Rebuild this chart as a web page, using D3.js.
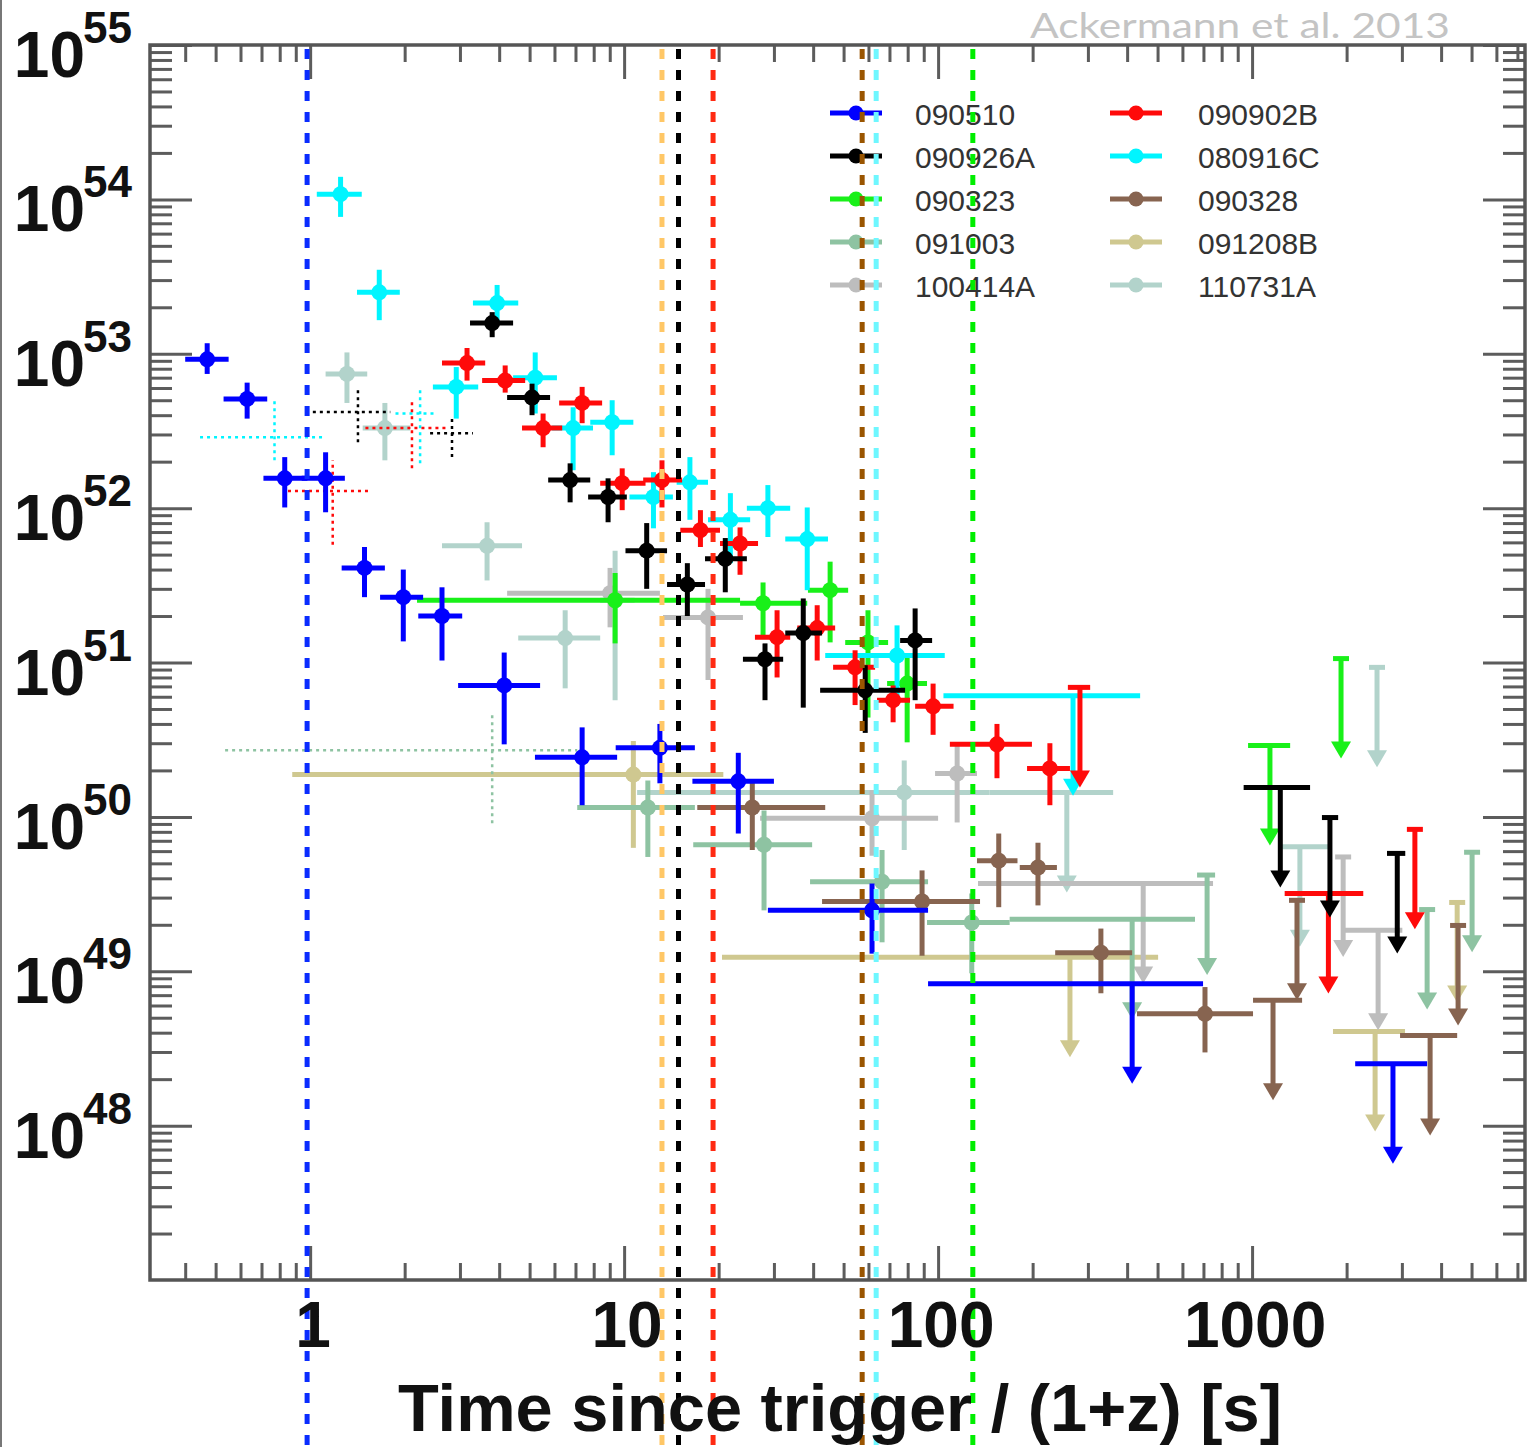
<!DOCTYPE html>
<html lang="en">
<head>
  <meta charset="utf-8">
  <title>GRB luminosity vs rest-frame time</title>
  <script type="text/javascript" src="https://cdn.jsdelivr.net/npm/d3@7"></script>
  <style>
    body { margin: 0; background: #fff; }
    svg { display: block; }
  </style>
</head>
<body>
  <script type="text/javascript">

  // rows: [t, tLow, tHigh, L, Llow, Lhigh]   (t in s, L in erg/s)
  // upper limits: [t, tLow, tHigh, Lmax]
  var grb090510 = [
    [0.47, 0.40, 0.55, 9.2e52, 7.4e52, 1.17e53],
    [0.63, 0.53, 0.73, 5.1e52, 3.8e52, 6.5e52],
    [0.83, 0.71, 0.98, 1.56e52, 1.01e52, 2.14e52],
    [1.12, 0.94, 1.29, 1.56e52, 9.4e51, 2.3e52],
    [1.49, 1.26, 1.73, 4.1e51, 2.65e51, 5.6e51],
    [1.98, 1.67, 2.29, 2.65e51, 1.37e51, 4.0e51],
    [2.63, 2.21, 3.05, 2.0e51, 1.03e51, 3.07e51],
    [4.15, 2.96, 5.4, 7.1e50, 2.95e50, 1.16e51],
    [7.35, 5.2, 9.5, 2.43e50, 1.19e50, 3.8e50],
    [13.0, 9.4, 16.8, 2.8e50, 1.65e50, 4.0e50],
    [23.1, 16.5, 30.0, 1.7e50, 7.8e49, 2.6e50],
    [61.6, 28.7, 92.9, 2.48e49, 1.30e49, 3.7e49]
  ];
  var ul090510 = [[415, 92.9, 698, 8.3e48], [2810, 2130, 3610, 2.52e48]];

  var grb090926A = [
    [3.80, 3.23, 4.43, 1.58e53, 1.28e53, 1.86e53],
    [5.09, 4.24, 5.81, 5.2e52, 4.0e52, 6.4e52],
    [6.73, 5.73, 7.80, 1.52e52, 1.09e52, 1.95e52],
    [8.89, 7.68, 10.2, 1.18e52, 8.1e51, 1.56e52],
    [11.8, 10.1, 13.7, 5.3e51, 3.0e51, 8.0e51],
    [15.9, 13.7, 18.1, 3.2e51, 2.0e51, 4.4e51],
    [21.0, 18.1, 24.6, 4.7e51, 2.85e51, 6.4e51],
    [28.1, 23.9, 32.1, 1.05e51, 5.7e50, 1.33e51],
    [37.2, 32.6, 42.7, 1.55e51, 5.1e50, 2.6e51],
    [58.6, 42.1, 78.5, 6.6e50, 3.5e50, 9.6e50],
    [84.5, 75.7, 95.7, 1.39e51, 5.7e50, 2.24e51]
  ];
  var ul090926A = [[1230, 940, 1530, 1.55e50], [1770, 1670, 1880, 9.9e49], [2900, 2690, 3070, 5.8e49]];
  var dot090926A = [[1.42, 1.02, 1.80, 4.2e52, 2.67e52, 6.0e52], [2.83, 2.41, 3.30, 3.05e52, 2.14e52, 3.9e52]];

  var grb090902B = [
    [3.16, 2.63, 3.61, 8.7e52, 6.7e52, 1.09e53],
    [4.18, 3.53, 4.84, 6.7e52, 5.6e52, 8.4e52],
    [7.35, 6.21, 8.51, 4.8e52, 3.55e52, 6.1e52],
    [5.52, 4.73, 6.35, 3.3e52, 2.48e52, 4.1e52],
    [9.86, 8.39, 11.7, 1.45e52, 9.7e51, 1.81e52],
    [13.2, 11.5, 15.3, 1.52e52, 1.01e52, 2.04e52],
    [17.5, 15.1, 20.2, 7.2e51, 5.6e51, 9.7e51],
    [23.4, 20.2, 26.7, 5.9e51, 3.7e51, 7.5e51],
    [30.7, 26.1, 33.8, 1.46e51, 8.0e50, 2.18e51],
    [41.2, 35.6, 47.0, 1.67e51, 1.03e51, 2.35e51],
    [54.4, 46.3, 63.0, 9.3e50, 5.3e50, 1.2e51],
    [71.9, 63.9, 81.4, 5.7e50, 4.1e50, 7.1e50],
    [96.4, 84.5, 112, 5.2e50, 3.4e50, 7.3e50],
    [154, 109, 199, 2.95e50, 1.78e50, 4.0e50],
    [227, 192, 263, 2.06e50, 1.19e50, 3.0e50]
  ];
  var ul090902B = [[283, 259, 305, 6.9e50], [1750, 1270, 2260, 3.19e49], [3300, 3220, 3390, 8.3e49]];
  var dot090902B = [[1.18, 0.85, 1.55, 1.29e52, 5.8e51, 2.04e52], [2.11, 1.50, 2.75, 3.3e52, 1.81e52, 5.0e52]];

  var grb080916C = [
    [1.25, 1.05, 1.46, 1.08e54, 7.7e53, 1.40e54],
    [1.66, 1.41, 1.93, 2.5e53, 1.65e53, 3.5e53],
    [3.94, 3.30, 4.60, 2.13e53, 1.58e53, 2.79e53],
    [2.92, 2.46, 3.43, 6.1e52, 3.8e52, 8.2e52],
    [5.21, 4.43, 6.11, 7.0e52, 4.1e52, 1.02e53],
    [6.88, 5.90, 7.96, 3.3e52, 1.76e52, 4.5e52],
    [9.16, 7.80, 10.7, 3.6e52, 2.2e52, 5.0e52],
    [12.4, 10.4, 14.3, 1.18e52, 7.4e51, 1.71e52],
    [16.2, 14.7, 18.5, 1.47e52, 8.4e51, 2.14e52],
    [21.8, 18.5, 25.2, 8.4e51, 4.4e51, 1.25e52],
    [28.7, 24.6, 33.8, 1.0e52, 6.5e51, 1.41e52],
    [38.3, 32.6, 44.6, 6.3e51, 2.94e51, 1.01e52],
    [74.0, 43.7, 105, 1.11e51, 5.4e50, 1.74e51]
  ];
  var ul080916C = [[269, 104, 440, 6.1e50]];
  var dot080916C = [[0.77, 0.446, 1.10, 2.88e52, 2.04e52, 5.0e52], [2.24, 1.87, 2.54, 4.1e52, 1.95e52, 6.0e52]];

  var grb090323 = [
    [9.36, 2.19, 23.4, 2.53e51, 1.33e51, 3.8e51],
    [27.7, 23.4, 38.3, 2.42e51, 1.46e51, 3.3e51],
    [45.3, 38.5, 51.7, 2.94e51, 1.35e51, 4.5e51],
    [59.8, 50.6, 69.3, 1.35e51, 4.4e50, 2.18e51],
    [79.7, 68.8, 92.2, 7.3e50, 3.04e50, 1.11e51]
  ];
  var ul090323 = [[1140, 971, 1322, 2.9e50], [1920, 1900, 1940, 1.06e51]];

  var grb090328 = [
    [25.6, 17.1, 43.7, 1.15e50, 6.1e49, 1.68e50],
    [88.9, 42.7, 136, 2.83e49, 1.26e49, 4.5e49],
    [156, 133, 179, 5.2e49, 2.6e49, 7.8e49],
    [208, 182, 239, 4.7e49, 2.67e49, 6.8e49],
    [330, 236, 415, 1.32e49, 7.2e48, 1.89e49],
    [708, 430, 1007, 5.3e48, 2.98e48, 7.9e48]
  ];
  var ul090328 = [[1166, 1007, 1443, 6.5e48], [1390, 1370, 1410, 2.88e49], [3690, 2960, 4500, 3.84e48], [4530, 4450, 4610, 1.98e49]];

  var grb091003 = [
    [11.9, 7.09, 16.8, 1.15e50, 5.5e49, 1.72e50],
    [27.9, 16.6, 39.7, 6.6e49, 2.48e49, 1.10e50],
    [66.3, 39.1, 92.9, 3.8e49, 1.54e49, 6.1e49],
    [128, 92.2, 169, 2.07e49, 9.7e48, 3.19e49]
  ];
  var ul091003 = [[415, 169, 658, 2.17e49], [719, 668, 762, 4.2e49], [3610, 3550, 3670, 2.51e49], [5020, 4940, 5100, 5.9e49]];
  var dot091003 = [[3.80, 0.536, 7.09, 2.70e50, 9.1e49, 4.7e50]];

  var grb100414A = [
    [9.02, 4.24, 13.0, 2.81e51, 1.69e51, 4.1e51],
    [18.5, 13.3, 23.9, 1.96e51, 7.7e50, 3.0e51],
    [61.6, 27.1, 100, 9.8e49, 5.6e49, 1.49e50],
    [115, 97.8, 133, 1.91e50, 9.2e49, 2.9e50]
  ];
  var ul100414A = [[450, 134, 751, 3.7e49], [1950, 1920, 1980, 5.5e49], [2520, 1950, 3010, 1.84e49]];

  var grb091208B = [[10.7, 0.877, 20.7, 1.88e50, 6.3e49, 3.1e50]];
  var ul091208B = [[263, 20.5, 502, 1.23e49], [4500, 4420, 4580, 2.79e49], [2465, 1810, 3070, 4.07e48]];

  var grb110731A = [
    [1.31, 1.12, 1.52, 7.4e52, 4.8e52, 1.02e53],
    [1.73, 1.47, 2.08, 3.3e52, 2.04e52, 4.8e52],
    [3.66, 2.63, 4.73, 5.7e51, 3.4e51, 8.1e51],
    [6.49, 4.60, 8.39, 1.44e51, 6.8e50, 2.18e51],
    [9.36, 8.39, 10.8, 2.53e51, 5.7e50, 5.3e51],
    [78.0, 11.0, 146, 1.44e50, 6.1e49, 2.32e50]
  ];
  var ul110731A = [[257, 146, 361, 1.44e50], [1420, 1228, 1770, 6.4e49], [2500, 2460, 2540, 9.3e50]];

  // end of the prompt emission for each burst (dashed vertical lines)
  var promptEnd = [0.978, 13.2, 14.9, 19.2, 57.3, 63.5, 129];
  var promptColors = ["#0a2cff", "#ffc766", "#000000", "#ff2a12", "#9a5500", "#6ef7ff", "#00ee00"];

  var xTickValues = [1, 10, 100, 1000];
  var xTickLabels = ["1", "10", "100", "1000"];
  var yTickExponents = [55, 54, 53, 52, 51, 50, 49, 48];

  var series = [
    {name: "091208B", color: "#cfc890", pts: grb091208B, ul: ul091208B, dot: []},
    {name: "110731A", color: "#b2d3cb", pts: grb110731A, ul: ul110731A, dot: []},
    {name: "100414A", color: "#bdbdbd", pts: grb100414A, ul: ul100414A, dot: []},
    {name: "091003", color: "#8ec3a2", pts: grb091003, ul: ul091003, dot: dot091003},
    {name: "090328", color: "#876450", pts: grb090328, ul: ul090328, dot: []},
    {name: "090323", color: "#19f019", pts: grb090323, ul: ul090323, dot: []},
    {name: "080916C", color: "#00f5ff", pts: grb080916C, ul: ul080916C, dot: dot080916C},
    {name: "090902B", color: "#ff0a0a", pts: grb090902B, ul: ul090902B, dot: dot090902B},
    {name: "090926A", color: "#000000", pts: grb090926A, ul: ul090926A, dot: dot090926A},
    {name: "090510", color: "#0000ff", pts: grb090510, ul: ul090510, dot: []}
  ];
  var legendCol1 = ["090510", "090926A", "090323", "091003", "100414A"];
  var legendCol2 = ["090902B", "080916C", "090328", "091208B", "110731A"];

  var width = 1527, height = 1447;
  var pLeft = 150, pRight = 1525, pTop = 45, pBottom = 1280;
  var arrowLen = 100;

  var svg = d3.select("body").append("svg")
    .attr("width", width)
    .attr("height", height);

  var x = d3.scaleLog().domain([0.309, 7400]).range([pLeft, pRight]);
  var y = d3.scaleLog().domain([1e47, 1e55]).range([pBottom, pTop]);

  // minor ticks 2..9 in every decade
  var xMinor = [], yMinor = [];
  [0.1, 1, 10, 100, 1000].forEach(function(d) {
    for (var k = 2; k <= 9; k++) if (d * k > 0.309 && d * k < 7400) xMinor.push(d * k);
  });
  for (var e = 47; e < 55; e++) for (var k = 2; k <= 9; k++) yMinor.push(k * Math.pow(10, e));
  var yMajor = yTickExponents.map(e => Math.pow(10, e));

  function tickAxis(axis, vals, size, tr) {
    var g = svg.append("g").attr("transform", tr)
      .call(axis.tickValues(vals).tickSize(size).tickSizeOuter(0).tickFormat(""));
    g.select(".domain").remove();
    g.selectAll("line").attr("stroke", "#5c5c5c").attr("stroke-width", 3);
  }
  tickAxis(d3.axisBottom(x), xTickValues, -34, "translate(0," + pBottom + ")");
  tickAxis(d3.axisBottom(x), xMinor, -17, "translate(0," + pBottom + ")");
  tickAxis(d3.axisTop(x), xTickValues, -34, "translate(0," + pTop + ")");
  tickAxis(d3.axisTop(x), xMinor, -17, "translate(0," + pTop + ")");
  tickAxis(d3.axisLeft(y), yMajor, -42, "translate(" + pLeft + ",0)");
  tickAxis(d3.axisLeft(y), yMinor, -22, "translate(" + pLeft + ",0)");
  tickAxis(d3.axisRight(y), yMajor, -42, "translate(" + pRight + ",0)");
  tickAxis(d3.axisRight(y), yMinor, -22, "translate(" + pRight + ",0)");

  svg.append("rect")
    .attr("x", pLeft).attr("y", pTop)
    .attr("width", pRight - pLeft).attr("height", pBottom - pTop)
    .attr("fill", "none").attr("stroke", "#555").attr("stroke-width", 3.5);

  // thin border line at the very left of the picture
  svg.append("line").attr("x1", 1).attr("x2", 1).attr("y1", 0).attr("y2", height)
    .attr("stroke", "#777").attr("stroke-width", 2);

  // legend (drawn under the dashed lines)
  var legend = svg.append("g");
  function legendColumn(names, lx, tx) {
    names.forEach(function(n, i) {
      var s = series.find(d => d.name === n);
      var ly = 113 + i * 43;
      legend.append("line").attr("x1", lx - 26).attr("x2", lx + 26).attr("y1", ly).attr("y2", ly)
        .attr("stroke", s.color).attr("stroke-width", 5);
      legend.append("circle").attr("cx", lx).attr("cy", ly).attr("r", 7.5).attr("fill", s.color);
      legend.append("text").attr("x", tx).attr("y", ly + 12)
        .attr("font-family", "Liberation Sans, Arial, sans-serif").attr("font-size", 30)
        .attr("fill", "#333").text(n);
    });
  }
  legendColumn(legendCol1, 856, 915);
  legendColumn(legendCol2, 1136, 1198);

  // data
  series.forEach(function(s) {
    var g = svg.append("g").attr("stroke", s.color).attr("fill", s.color);

    var gd = g.append("g").attr("stroke-width", 2.5).attr("stroke-dasharray", "3,4");
    gd.selectAll("line.h").data(s.dot).enter().append("line").attr("class", "h")
      .attr("x1", d => x(d[1])).attr("x2", d => x(d[2]))
      .attr("y1", d => y(d[3])).attr("y2", d => y(d[3]));
    gd.selectAll("line.v").data(s.dot).enter().append("line").attr("class", "v")
      .attr("x1", d => x(d[0])).attr("x2", d => x(d[0]))
      .attr("y1", d => y(d[4])).attr("y2", d => y(d[5]));

    var gu = g.append("g").attr("stroke-width", 5);
    gu.selectAll("line.h").data(s.ul).enter().append("line").attr("class", "h")
      .attr("x1", d => Math.min(x(d[1]), x(d[0]) - 8)).attr("x2", d => Math.max(x(d[2]), x(d[0]) + 8))
      .attr("y1", d => y(d[3])).attr("y2", d => y(d[3]));
    gu.selectAll("line.v").data(s.ul).enter().append("line").attr("class", "v")
      .attr("x1", d => x(d[0])).attr("x2", d => x(d[0]))
      .attr("y1", d => y(d[3])).attr("y2", d => y(d[3]) + arrowLen - 10);
    gu.selectAll("path").data(s.ul).enter().append("path")
      .attr("stroke", "none")
      .attr("d", function(d) {
        var cx = x(d[0]), cy = y(d[3]) + arrowLen;
        return "M" + (cx - 10) + "," + (cy - 17) + "L" + (cx + 10) + "," + (cy - 17) + "L" + cx + "," + cy + "Z";
      });

    var gp = g.append("g").attr("stroke-width", 5);
    gp.selectAll("line.h").data(s.pts).enter().append("line").attr("class", "h")
      .attr("x1", d => x(d[1])).attr("x2", d => x(d[2]))
      .attr("y1", d => y(d[3])).attr("y2", d => y(d[3]));
    gp.selectAll("line.v").data(s.pts).enter().append("line").attr("class", "v")
      .attr("x1", d => x(d[0])).attr("x2", d => x(d[0]))
      .attr("y1", d => y(d[4])).attr("y2", d => y(d[5]));
    gp.selectAll("circle").data(s.pts).enter().append("circle")
      .attr("stroke", "none")
      .attr("cx", d => x(d[0])).attr("cy", d => y(d[3])).attr("r", 8);
  });

  // dashed vertical lines on top
  svg.append("g").selectAll("line").data(promptEnd).enter().append("line")
    .attr("x1", d => x(d)).attr("x2", d => x(d))
    .attr("y1", pTop + 4).attr("y2", height)
    .attr("stroke", (d, i) => promptColors[i])
    .attr("stroke-width", 5)
    .attr("stroke-dasharray", "10,11");

  // axis labels
  var font = "Liberation Sans, Arial, Helvetica, sans-serif";
  var yl = svg.append("g").attr("font-family", font).attr("font-weight", "bold").attr("fill", "#111");
  yTickExponents.forEach(function(e) {
    var py = y(Math.pow(10, e));
    yl.append("text").attr("x", 85).attr("y", py + 32).attr("text-anchor", "end")
      .attr("font-size", 64).text("10");
    yl.append("text").attr("x", 83).attr("y", py - 2)
      .attr("font-size", 44).text(e);
  });

  svg.append("g").attr("font-family", font).attr("font-weight", "bold").attr("fill", "#111")
    .selectAll("text").data(xTickValues).enter().append("text")
    .attr("x", d => x(d) + 3).attr("y", 1347)
    .attr("text-anchor", "middle").attr("font-size", 64)
    .text((d, i) => xTickLabels[i]);

  svg.append("text")
    .attr("x", 398).attr("y", 1431)
    .attr("font-family", font).attr("font-weight", "bold").attr("font-size", 67)
    .attr("fill", "#111")
    .attr("textLength", 884).attr("lengthAdjust", "spacingAndGlyphs")
    .text("Time since trigger / (1+z) [s]");

  // credit line, kept fully inside the picture just above the frame
  svg.append("text")
    .attr("x", 1030).attr("y", 38)
    .attr("font-family", "Lato, Open Sans, sans-serif").attr("font-size", 34)
    .attr("fill", "#c4c4c4")
    .attr("textLength", 420).attr("lengthAdjust", "spacingAndGlyphs")
    .text("Ackermann et al. 2013");

  </script>
</body>
</html>
